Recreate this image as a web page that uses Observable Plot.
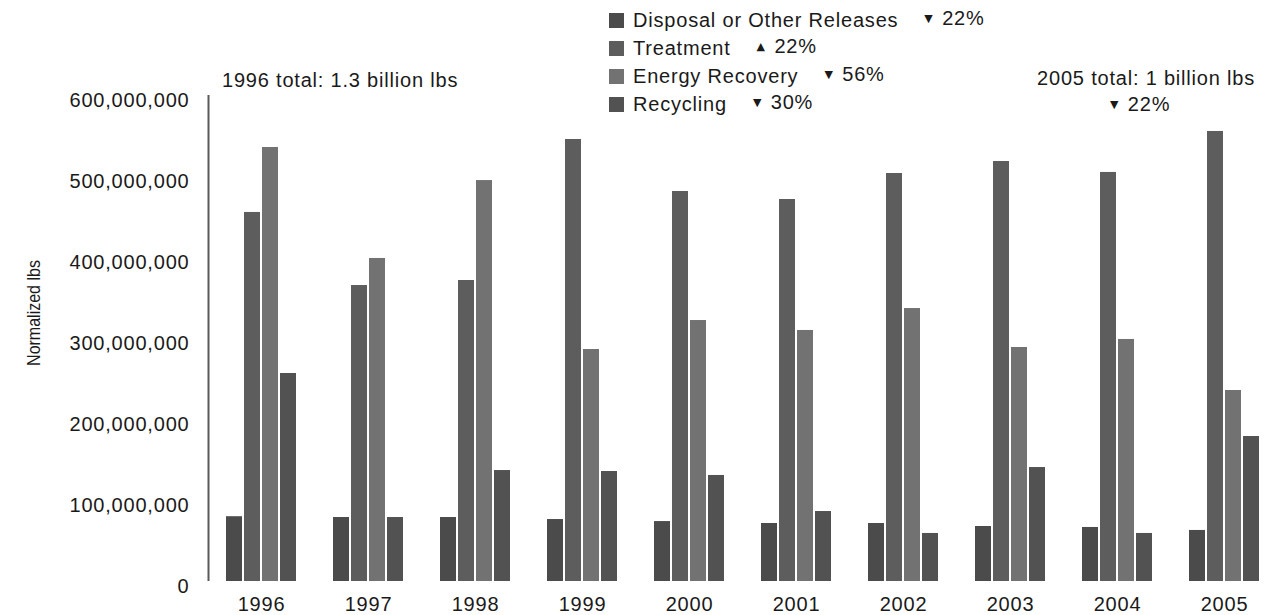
<!DOCTYPE html>
<html>
<head>
<meta charset="utf-8">
<script src="https://cdn.jsdelivr.net/npm/d3@7"></script>
<script src="https://cdn.jsdelivr.net/npm/@observablehq/plot@0.6"></script>
<style>
  html, body { margin: 0; padding: 0; background: #fff; }
  #wrap { position: relative; width: 1264px; height: 615px; overflow: hidden;
          font-family: "Liberation Sans", Arial, Helvetica, sans-serif; font-size: 20px;
          letter-spacing: 0.8px; color: #1a1a1a; }
  #wrap svg { position: absolute; left: 0; top: 0; }
  .ov { position: absolute; white-space: nowrap; line-height: 28px; }
  .legend-row { display: flex; align-items: center; height: 28px; }
  .sw { width: 15px; height: 15px; margin-right: 9px; flex: none; }
  .tri { font-family: "DejaVu Sans", sans-serif; font-size: 11px; position: relative; top: -3px; margin-right: 3px; letter-spacing: 0; }
  .chg { margin-left: 26px; }
  #ylab { position: absolute; font-size: 16px; letter-spacing: 0; white-space: nowrap; line-height: 1;
          transform: translate(-50%, -50%) rotate(-90deg) scale(1, 1.2); }
</style>
</head>
<body>
<div id="wrap"></div>
<script>
// ---- data (lbs, normalized) ----
const years = [1996, 1997, 1998, 1999, 2000, 2001, 2002, 2003, 2004, 2005];
const categories = ["Disposal or Other Releases", "Treatment", "Energy Recovery", "Recycling"];
const disposal  = [80e6, 79e6, 79e6, 76.5e6, 74e6, 71.6e6, 71.6e6, 67.9e6, 66.7e6, 63e6];
const treatment = [455.6e6, 365.4e6, 371.6e6, 545.7e6, 481.5e6, 471.6e6, 503.7e6, 518.5e6, 505e6, 555.6e6];
const energy    = [535.8e6, 398.8e6, 495e6, 286.4e6, 322.2e6, 309.9e6, 337e6, 288.9e6, 298.8e6, 235.8e6];
const recycling = [256.8e6, 79e6, 137e6, 135.8e6, 130.9e6, 86.4e6, 59.3e6, 140.7e6, 59.3e6, 179e6];
const changes   = [["▼", "22%"], ["▲", "22%"], ["▼", "56%"], ["▼", "30%"]];
const yTicks = [0, 100e6, 200e6, 300e6, 400e6, 500e6, 600e6];
const colors = ["#4b4b4b", "#5d5d5d", "#727272", "#525252"];
const total1996 = "1996 total: 1.3 billion lbs";
const total2005 = "2005 total: 1 billion lbs";
const totalChange = ["▼", "22%"];
const yLabel = "Normalized lbs";

const series = [disposal, treatment, energy, recycling];
const rows = years.flatMap((yr, i) => categories.map((c, j) => ({year: yr, category: c, value: series[j][i]})));

const chart = Plot.plot({
  width: 1264,
  height: 615,
  marginTop: 95,
  marginBottom: 34,
  marginLeft: 223,
  marginRight: 3,
  style: {fontFamily: "'Liberation Sans', Arial, Helvetica, sans-serif", fontSize: "20px", letterSpacing: "0.8px", color: "#1a1a1a", background: "transparent", overflow: "visible"},
  fx: {domain: years, paddingInner: 0.33, paddingOuter: 0, label: null},
  x: {domain: categories, paddingInner: 0.13, paddingOuter: 0, axis: null},
  y: {domain: [0, 600e6], axis: null},
  color: {domain: categories, range: colors},
  marks: [
    Plot.barY(rows, {fx: "year", x: "category", y: "value", fill: "category"}),
    Plot.axisFx({anchor: "bottom", tickSize: 0, tickPadding: 15, label: null, tickFormat: d => String(d)}),
    Plot.axisY(yTicks, {anchor: "left", tickSize: 0, tickPadding: 36, dy: 5, tickFormat: d3.format(","), label: null}),
    Plot.ruleX(["axis"], {x: null, fx: () => years[0], dx: -53, stroke: "#5a5a5a", strokeWidth: 2})
  ]
});

const wrap = document.getElementById("wrap");
wrap.appendChild(chart);

// legend
const legend = document.createElement("div");
legend.className = "ov";
legend.style.left = "609px";
legend.style.top = "6px";
categories.forEach((c, j) => {
  const row = document.createElement("div");
  row.className = "legend-row";
  row.innerHTML = `<span class="sw" style="background:${colors[j]}"></span><span>${c}</span>` +
    `<span class="chg"><span class="tri">${changes[j][0]}</span> ${changes[j][1]}</span>`;
  legend.appendChild(row);
});
wrap.appendChild(legend);

// annotations
const a1 = document.createElement("div");
a1.className = "ov"; a1.style.left = "222px"; a1.style.top = "66px"; a1.textContent = total1996;
wrap.appendChild(a1);
const a2 = document.createElement("div");
a2.className = "ov"; a2.style.right = "9px"; a2.style.top = "64px"; a2.textContent = total2005;
wrap.appendChild(a2);
const a3 = document.createElement("div");
a3.className = "ov"; a3.style.left = "1110px"; a3.style.top = "90px";
a3.innerHTML = `<span class="tri">${totalChange[0]}</span> ${totalChange[1]}`;
wrap.appendChild(a3);

const yl = document.createElement("div");
yl.id = "ylab"; yl.style.left = "34px"; yl.style.top = "313px"; yl.textContent = yLabel;
wrap.appendChild(yl);
</script>
</body>
</html>
